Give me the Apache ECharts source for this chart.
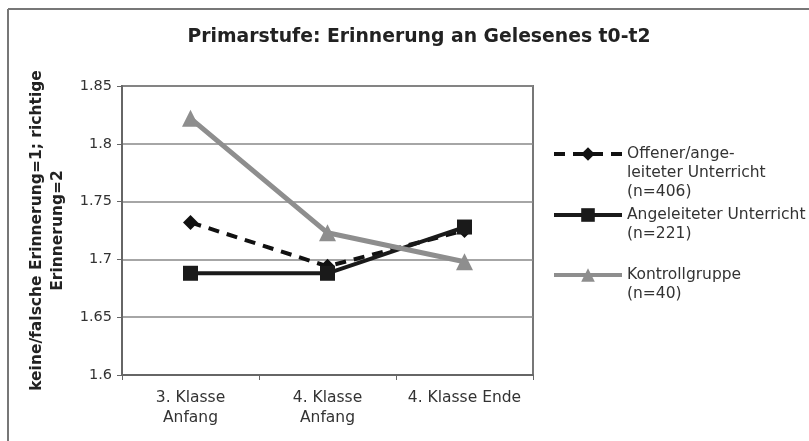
<!DOCTYPE html>
<html>
<head>
<meta charset="utf-8">
<script src="https://cdn.jsdelivr.net/npm/echarts@6/dist/echarts.min.js"></script>
<style>
  html, body { margin: 0; padding: 0; background: #fff; }
  #main { width: 809px; height: 441px; }
</style>
</head>
<body>
<div id="main"></div>
<script>
var categories = ['3. Klasse\nAnfang', '4. Klasse\nAnfang', '4. Klasse Ende'];
var seriesNames = [
  'Offener/ange-\nleiteter Unterricht\n(n=406)',
  'Angeleiteter Unterricht\n(n=221)',
  'Kontrollgruppe\n(n=40)'
];
var offenerValues = [1.732, 1.694, 1.725];
var angeleitetValues = [1.688, 1.688, 1.728];
var kontrollValues = [1.822, 1.723, 1.698];

var chart = echarts.init(document.getElementById('main'));
var font = 'DejaVu Sans';
var lineH = 19;

// pad empty lines above so the first text line sits level with the icon
function padName(name) {
  var n = name.split('\n').length;
  return new Array(n).join('\n') + name;
}

function legendFor(name, iconY, lineW) {
  var n = name.split('\n').length;
  var blockH = (2 * n - 1) * lineH;
  return {
    data: [name],
    left: 547,
    top: iconY - blockH / 2 - 5,
    itemWidth: 68,
    itemHeight: 17,
    itemGap: 0,
    formatter: padName,
    lineStyle: { width: lineW },
    textStyle: {
      fontFamily: font, fontSize: 15.5, color: '#333',
      lineHeight: lineH
    }
  };
}

var option = {
  backgroundColor: '#fff',
  title: {
    text: 'Primarstufe: Erinnerung an Gelesenes t0-t2',
    left: 414,
    top: 23,
    textAlign: 'center',
    textStyle: { fontFamily: font, fontSize: 18.8, fontWeight: 'bold', color: '#222' }
  },
  legend: [
    legendFor(seriesNames[0], 154, 4),
    legendFor(seriesNames[1], 215, 4),
    legendFor(seriesNames[2], 275, 4)
  ],
  graphic: [
    { type: 'line', shape: { x1: 8, y1: 9, x2: 809, y2: 9 }, style: { stroke: '#777', lineWidth: 2 } },
    { type: 'line', shape: { x1: 8, y1: 9, x2: 8, y2: 441 }, style: { stroke: '#777', lineWidth: 2 } }
  ],
  grid: {
    left: 122, right: 276, top: 86, bottom: 66,
    show: true, borderColor: '#777', borderWidth: 2
  },
  xAxis: {
    type: 'category',
    data: categories,
    boundaryGap: true,
    axisLine: { lineStyle: { color: '#666', width: 2 } },
    axisTick: { show: true, length: 5, lineStyle: { color: '#666' } },
    axisLabel: { interval: 0, fontFamily: font, fontSize: 15.5, color: '#333', lineHeight: 20, margin: 13 }
  },
  yAxis: {
    type: 'value',
    min: 1.6, max: 1.85, interval: 0.05,
    name: 'keine/falsche Erinnerung=1; richtige\nErinnerung=2',
    nameLocation: 'middle',
    nameGap: 52,
    nameTextStyle: { fontFamily: font, fontSize: 15.5, fontWeight: 'bold', color: '#222', lineHeight: 21 },
    axisLine: { show: true, lineStyle: { color: '#666', width: 2 } },
    axisTick: { show: true, length: 5, lineStyle: { color: '#666' } },
    axisLabel: { fontFamily: font, fontSize: 14.5, color: '#333', margin: 10 },
    splitLine: { lineStyle: { color: '#888', width: 1.5 } }
  },
  series: [
    {
      name: seriesNames[0], type: 'line', data: offenerValues,
      symbol: 'diamond', symbolSize: 15,
      lineStyle: { color: '#111', width: 4, type: [11, 8] },
      itemStyle: { color: '#111' }
    },
    {
      name: seriesNames[1], type: 'line', data: angeleitetValues,
      symbol: 'rect', symbolSize: 15,
      lineStyle: { color: '#1a1a1a', width: 4 },
      itemStyle: { color: '#1a1a1a' }
    },
    {
      name: seriesNames[2], type: 'line', data: kontrollValues,
      symbol: 'triangle', symbolSize: 17,
      lineStyle: { color: '#8e8e8e', width: 5 },
      itemStyle: { color: '#8e8e8e' }
    }
  ],
  animation: false
};
chart.setOption(option);
</script>
</body>
</html>
